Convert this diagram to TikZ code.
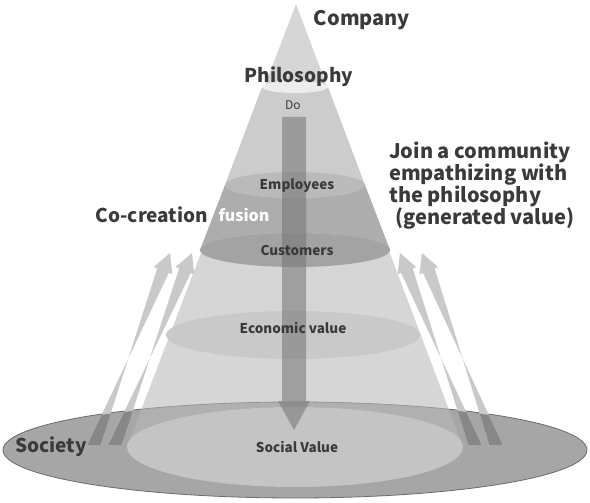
\documentclass[tikz,border=0pt]{standalone}
\usepackage{fontspec}
\setmainfont{Noto Sans CJK KR}
\usetikzlibrary{calc}
\definecolor{txt}{HTML}{3A3A3A}
\tikzset{
  lbl/.style={font=\bfseries\fontsize{19}{21}\selectfont, text=txt, inner sep=0pt},
  slbl/.style={font=\bfseries\fontsize{13.5}{15}\selectfont, text=txt, inner sep=0pt},
  uparr/.style={fill=black!21, draw=none},
}
\newcommand\mkarr[3]{%
  \coordinate (#1b) at #2;
  \coordinate (#1t) at #3;
  \coordinate (#1h) at ($(#1t)!19pt!(#1b)$);
}
\newcommand\arrpath[1]{%
  ($(#1b)+(-6.6,0)$) -- ($(#1h)!6.2pt!90:(#1b)$) -- ($(#1h)!10pt!90:(#1b)$) -- (#1t)
  -- ($(#1h)!10pt!-90:(#1b)$) -- ($(#1h)!6.2pt!-90:(#1b)$) -- ($(#1b)+(6.6,0)$) -- cycle
}
\begin{document}
\begin{tikzpicture}[x=1pt,y=-1pt]
\useasboundingbox (0,0) rectangle (590,503);
\fill[white] (0,0) rectangle (590,503);
% big ellipse
\fill[black!35] (295,450) ellipse [x radius=292, y radius=48];
\draw[black!58, line width=0.8pt] (295,450) ellipse [x radius=292, y radius=48];
% side arrows
\mkarr{L1}{(94,445)}{(170,253)}
\mkarr{L2}{(115,445)}{(192,253)}
\mkarr{R1}{(475,445)}{(400,253)}
\mkarr{R2}{(496,445)}{(422,253)}
\foreach \a in {L1,L2,R1,R2}{\fill[uparr] \arrpath{\a};}
\begin{scope}
  \clip (295,450) ellipse [x radius=291, y radius=47];
  \foreach \a in {L1,L2,R1,R2}{\fill[black!47] \arrpath{\a};}
\end{scope}
% cone
\fill[black!28, opacity=0.57] (296,4) -- (127,447) arc [start angle=180, end angle=360, x radius=168, y radius=40] -- cycle;
% slightly darker part between philosophy and employees
\fill[black!20] (262,87) -- (225,185) -- (365,185) -- (328,87) -- cycle;
% inner base ellipse
\fill[black!23] (295,447) ellipse [x radius=168, y radius=40];
% philosophy ellipse
\fill[black!7] (295,87) ellipse [x radius=33, y radius=6];
% band between employees and customers
\fill[black!32] (225,185) -- (200,250) arc [start angle=180, end angle=360, x radius=95, y radius=17] -- (365,185) arc [start angle=0, end angle=180, x radius=70, y radius=13] -- cycle;
\fill[black!27] (295,185) ellipse [x radius=70, y radius=13];
\fill[black!36] (295,250) ellipse [x radius=95, y radius=17];
% economic value ellipse
\fill[black!21] (293,335) ellipse [x radius=127, y radius=24];
% central arrow
\fill[black!55, opacity=0.55] (282,117) -- (282,401) -- (278,401) -- (294,430) -- (310,401) -- (306,401) -- (306,117) -- cycle;
% labels
\node[lbl, font=\bfseries\fontsize{20}{22}\selectfont] (company) at (362,20) {Company};
\node[lbl] (philo) at (299,77) {Philosophy};
\node[inner sep=0pt, text=txt, font=\fontsize{12}{14}\selectfont] (do) at (293,105) {Do};
\node[slbl] (emp) at (297,186) {Employees};
\node[slbl] (cust) at (297,250) {Customers};
\node[slbl] (econ) at (293,328) {Economic value};
\node[slbl] (social) at (297,447) {Social Value};
\node[lbl, text=white, font=\bfseries\fontsize{16}{18}\selectfont] (fusion) at (244,215) {fusion};
\node[lbl] (cocre) at (152,215) {Co-creation};
\node[lbl] (society) at (51,447) {Society};
\node[lbl, anchor=north west, align=left, font=\bfseries\fontsize{20}{21.8}\selectfont] (join) at (389,142)
  {Join a community\\empathizing with\\the philosophy\\\hphantom{i}(generated value)};
\end{tikzpicture}
\end{document}
